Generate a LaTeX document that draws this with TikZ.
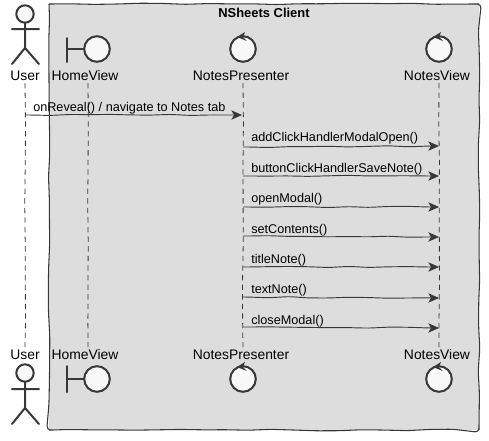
\documentclass[tikz,border=0pt]{standalone}
\usepackage{fontspec}
\setmainfont{Liberation Sans}
\usepackage{tikz}
\usetikzlibrary{arrows.meta,decorations.pathmorphing}
\definecolor{inkgray}{HTML}{383838}
\definecolor{boxgray}{HTML}{DDDDDD}
\definecolor{iconfill}{HTML}{F8F8F8}
\tikzset{
  sketchy/.style={decorate,decoration={random steps,segment length=17pt,amplitude=0.6pt},rounded corners=3pt},
  wobbly/.style={decorate,decoration={random steps,segment length=15pt,amplitude=0.5pt,pre length=4pt,post length=8pt},rounded corners=3pt},
  icon/.style={draw=inkgray,fill=iconfill,line width=1.5pt},
  limb/.style={draw=inkgray,line width=1.5pt,line cap=round},
  lifeline/.style={draw=inkgray,line width=0.6pt,dash pattern=on 4pt off 3.2pt,decorate,decoration={random steps,segment length=30pt,amplitude=0.4pt}},
  msg/.style={draw=inkgray,line width=0.7pt,wobbly,-{Stealth[length=8pt,width=7pt,inset=2pt]}},
  who/.style={font=\fontsize{10.4}{12}\selectfont,text=black,inner sep=0pt},
  msglabel/.style={font=\fontsize{9.5}{11}\selectfont,text=black,inner sep=0pt,anchor=base west}
}
\begin{document}
\begin{tikzpicture}[x=0.75pt,y=-0.75pt]
            \pgfmathsetseed{7}
            \useasboundingbox (0,0) rectangle (489,440);
            \fill[white] (0,0) rectangle (489,440);

            % client box
            \fill[boxgray] (49,4) rectangle (479,430);
            \draw[inkgray,line width=0.8pt,sketchy] (49,4) -- (479,4) -- (479,430) -- (49,430) -- (49,4);
            \node[font=\fontsize{9.7}{11}\selectfont\bfseries,inner sep=0pt] (client) at (264,13) {NSheets Client};

            % names, top and bottom
            \node[who] (usertop) at (25,76) {User};
            \node[who] (hometop) at (85,76) {HomeView};
            \node[who] (prestop) at (241,76) {NotesPresenter};
            \node[who] (viewtop) at (437,76) {NotesView};
            \node[who] (userbot) at (25,355) {User};
            \node[who] (homebot) at (85,355) {HomeView};
            \node[who] (presbot) at (241,355) {NotesPresenter};
            \node[who] (viewbot) at (437,355) {NotesView};

            % lifelines
            \coordinate (ua) at (25,83);  \coordinate (ub) at (25,347);
            \coordinate (ha) at (88,83);  \coordinate (hb) at (88,347);
            \coordinate (pa) at (243,83); \coordinate (pb) at (243,347);
            \coordinate (va) at (439,83); \coordinate (vb) at (439,347);
            \draw[lifeline] (ua) -- (ub);
            \draw[lifeline] (ha) -- (hb);
            \draw[lifeline] (pa) -- (pb);
            \draw[lifeline] (va) -- (vb);

            % user figures
            \draw[icon] (25,14) circle (8.7);
            \draw[limb] (25,23) -- (25,48) (12,29) -- (39,29) (12,64) -- (25,48) -- (39,64);
            \draw[icon] (25,373) circle (8.7);
            \draw[limb] (25,382) -- (25,408) (12,389) -- (39,389) (12,424) -- (25,408) -- (39,424);

            % boundary figures
            \draw[limb] (67,38) -- (67,62) (67,49) -- (84,49);
            \draw[icon] (97,49) circle (12.8);
            \draw[limb] (67,366) -- (67,392) (67,379) -- (84,379);
            \draw[icon] (97,379) circle (12.8);

            % control figures
            \draw[icon] (243,49) circle (12.8);
            \draw[icon] (439,49) circle (12.8);
            \draw[icon] (243,379) circle (12.8);
            \draw[icon] (439,379) circle (12.8);
            \fill[inkgray] (237,37) -- (245,32) -- (243,37) -- (247,41) -- cycle;
            \fill[inkgray] (433,37) -- (441,32) -- (439,37) -- (443,41) -- cycle;
            \fill[inkgray] (237,367) -- (245,362) -- (243,367) -- (247,371) -- cycle;
            \fill[inkgray] (433,367) -- (441,362) -- (439,367) -- (443,371) -- cycle;

            % messages
            \coordinate (m0a) at (25,115); \coordinate (m0b) at (242,115);
            \draw[msg] (m0a) -- (m0b);
            \node[msglabel] (m0) at (33,111) {onReveal() / navigate to Notes tab};

            \coordinate (m1a) at (243,147); \coordinate (m1b) at (439,146);
            \draw[msg] (m1a) -- (m1b);
            \node[msglabel] (m1) at (251,141) {addClickHandlerModalOpen()};

            \coordinate (m2a) at (243,176); \coordinate (m2b) at (439,176);
            \draw[msg] (m2a) -- (m2b);
            \node[msglabel] (m2) at (251,172) {buttonClickHandlerSaveNote()};

            \coordinate (m3a) at (243,207); \coordinate (m3b) at (439,207);
            \draw[msg] (m3a) -- (m3b);
            \node[msglabel] (m3) at (251,202) {openModal()};

            \coordinate (m4a) at (243,236); \coordinate (m4b) at (439,237);
            \draw[msg] (m4a) -- (m4b);
            \node[msglabel] (m4) at (251,233) {setContents()};

            \coordinate (m5a) at (243,267); \coordinate (m5b) at (439,267);
            \draw[msg] (m5a) -- (m5b);
            \node[msglabel] (m5) at (251,263) {titleNote()};

            \coordinate (m6a) at (243,297); \coordinate (m6b) at (439,298);
            \draw[msg] (m6a) -- (m6b);
            \node[msglabel] (m6) at (251,293) {textNote()};

            \coordinate (m7a) at (243,327); \coordinate (m7b) at (439,328);
            \draw[msg] (m7a) -- (m7b);
            \node[msglabel] (m7) at (251,324) {closeModal()};

          \end{tikzpicture}
\end{document}
